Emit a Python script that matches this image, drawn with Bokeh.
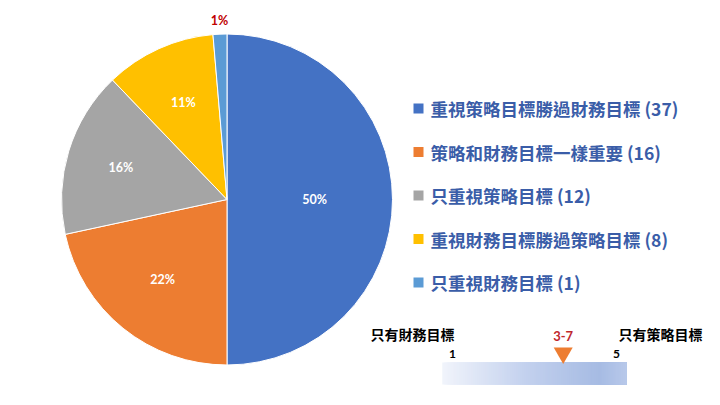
import math
from bokeh.plotting import figure
from bokeh.models import Range1d, ColumnDataSource
from bokeh.core.properties import value
from bokeh.embed import file_html
from bokeh.resources import INLINE

# ---- data ----
categories = ["重視策略目標勝過財務目標", "策略和財務目標一樣重要", "只重視策略目標",
              "重視財務目標勝過策略目標", "只重視財務目標"]
counts = [37, 16, 12, 8, 1]
pct_labels = ["50%", "22%", "16%", "11%", "1%"]
colors = ["#4472C4", "#ED7D31", "#A5A5A5", "#FFC000", "#5B9BD5"]
label_colors = ["white", "white", "white", "white", "#C00000"]
label_r = [0.53, 0.62, 0.67, 0.64, 1.08]

scale_min, scale_max = 1, 5
scale_score = 3.7
score_label = "3-7"
scale_left_text = "只有財務目標"
scale_right_text = "只有策略目標"
grad_stops = [(0.0, "#F1F4FB"), (0.45, "#C3D1EE"), (0.85, "#A6BBE3"), (1.0, "#B8C8EA")]

W, H = 704, 389
p = figure(width=W, height=H, output_backend="svg", toolbar_location=None,
           x_range=Range1d(0, W), y_range=Range1d(405 - H, 405), min_border=0)
p.axis.visible = False
p.grid.visible = False
p.outline_line_color = None
p.background_fill_color = "white"
p.border_fill_color = "white"

# ---- pie ----
cx, cy, R = 226.5, 405 - 199, 165.5
total = sum(counts)
starts, ends, lx, ly = [], [], [], []
cum = 0
for i, c in enumerate(counts):
    a0 = math.pi / 2 - 2 * math.pi * (cum + c) / total
    a1 = math.pi / 2 - 2 * math.pi * cum / total
    starts.append(a0); ends.append(a1)
    mid = (a0 + a1) / 2
    lx.append(cx + R * label_r[i] * math.cos(mid))
    ly.append(cy + R * label_r[i] * math.sin(mid))
    cum += c
src = ColumnDataSource(dict(start=starts, end=ends, color=colors, lx=lx, ly=ly,
                            lab=pct_labels, lc=label_colors))
p.wedge(x=cx, y=cy, radius=R, start_angle="start", end_angle="end", fill_color="color",
        line_color="white", line_width=1, source=src)
p.text(x="lx", y="ly", text="lab", text_color="lc", text_font=value("Lato"),
       text_font_style="bold", text_font_size="12.5px", text_align="center",
       text_baseline="middle", source=src)

# ---- legend ----
leg_y0, leg_dy = 405 - 108, 43.5
leg_y = [leg_y0 - i * leg_dy for i in range(len(categories))]
leg_txt = [f"{c} ({n})" for c, n in zip(categories, counts)]
p.scatter(x=[418] * len(categories), y=leg_y, marker="square", size=10,
          fill_color=colors, line_color=None)
p.text(x=[430] * len(categories), y=leg_y, text=leg_txt, text_color="#3A5DA8",
       text_font=value("Noto Sans CJK TC"), text_font_style="bold", text_font_size="17.5px",
       text_baseline="middle")

# ---- scale bar (own x range: value 1 -> px 452, 5 -> px 616) ----
px1, px5 = 452, 616
upp = (scale_max - scale_min) / (px5 - px1)
s0 = scale_min - px1 * upp
p.extra_x_ranges = {"scale": Range1d(s0, s0 + W * upp)}
pad = 0.25
bar_lo, bar_hi = scale_min - pad, scale_max + pad
bar_bot, bar_top = 405 - 384, 405 - 362

def interp(t):
    for (t0, c0), (t1, c1) in zip(grad_stops[:-1], grad_stops[1:]):
        if t0 <= t <= t1:
            f = (t - t0) / (t1 - t0) if t1 > t0 else 0
            a = [int(c0[k:k + 2], 16) for k in (1, 3, 5)]
            b = [int(c1[k:k + 2], 16) for k in (1, 3, 5)]
            return "#%02x%02x%02x" % tuple(round(a[j] + (b[j] - a[j]) * f) for j in range(3))
    return grad_stops[-1][1]

n = 90
step = (bar_hi - bar_lo) / n
ql = [bar_lo + i * step for i in range(n)]
qr = [bar_hi] * n
qc = [interp((i + 0.5) / n) for i in range(n)]
p.quad(left=ql, right=qr, bottom=bar_bot, top=bar_top, fill_color=qc, line_color=None,
       x_range_name="scale")

p.scatter(x=[scale_score], y=[bar_top + 9.5], marker="inverted_triangle", size=19,
          fill_color="#ED7D31", line_color=None, x_range_name="scale")
p.text(x=[scale_score], y=[405 - 335], text=[score_label], text_color="#C0282D",
       text_font=value("Lato"), text_font_style="bold", text_font_size="13px",
       text_align="center", text_baseline="middle", x_range_name="scale")
p.text(x=[scale_min, scale_max], y=[405 - 353] * 2, text=[str(scale_min), str(scale_max)],
       text_color="black", text_font=value("Lato"), text_font_style="bold",
       text_font_size="12px", text_align="center", text_baseline="middle",
       x_range_name="scale")
p.text(x=[scale_min, scale_max], y=[405 - 333] * 2, text=[scale_left_text, scale_right_text],
       text_color="black", text_font=value("Noto Sans CJK TC"), text_font_style="bold",
       text_font_size="14px", text_align="right", text_baseline="middle",
       x_range_name="scale", x_offset=[2, 86])

open("out.html", "w").write(file_html(p, INLINE))
